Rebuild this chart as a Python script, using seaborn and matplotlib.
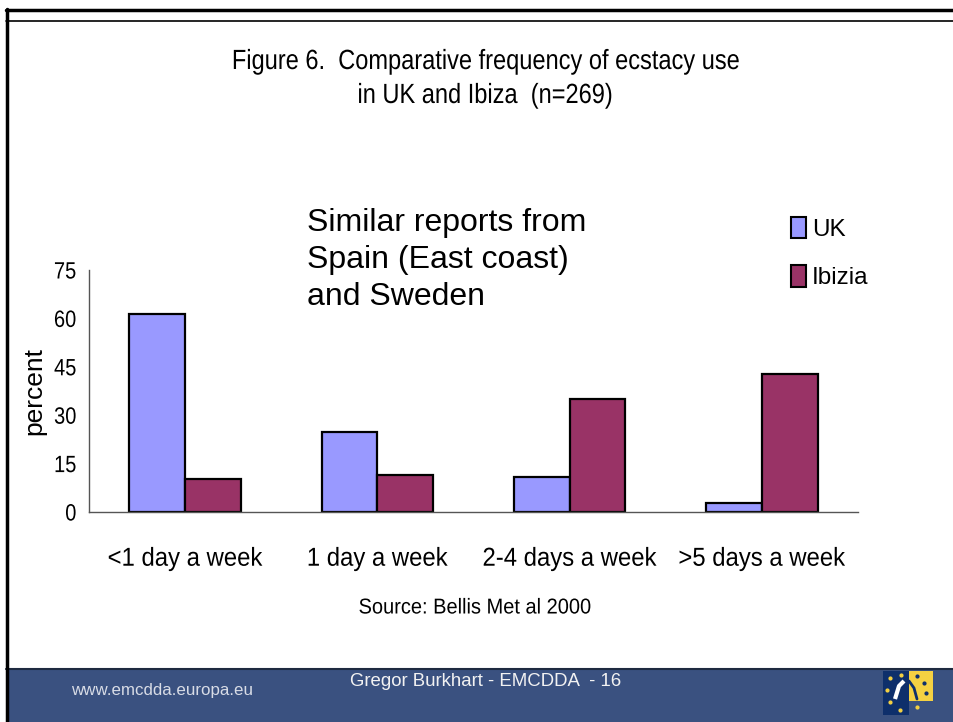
import matplotlib
matplotlib.use("Agg")
import matplotlib.pyplot as plt
from matplotlib.patches import Rectangle
from matplotlib.lines import Line2D
from matplotlib.patheffects import AbstractPathEffect
from matplotlib.transforms import Affine2D
import seaborn as sns
import pandas as pd

categories = ["<1 day a week", "1 day a week", "2-4 days a week", ">5 days a week"]
uk_values = [61.3, 24.7, 10.8, 2.8]
ibiza_values = [10.1, 11.5, 34.9, 42.9]
series_names = ["UK", "Ibizia"]
y_ticks = [0, 15, 30, 45, 60, 75]

REG = "Liberation Sans"

sns.set_theme(style="white")
plt.rcParams['font.family'] = [REG, 'DejaVu Sans']
plt.rcParams['text.color'] = 'black'


class Squeeze(AbstractPathEffect):
    """Condense text horizontally (the source uses a tightly tracked font)."""
    def __init__(self, sx, anchor="center"):
        super().__init__()
        self.sx = sx
        self.anchor = anchor

    def draw_path(self, renderer, gc, tpath, affine, rgbFace=None):
        ext = tpath.get_extents()
        if self.anchor == "left":
            x0 = ext.x0
        elif self.anchor == "right":
            x0 = ext.x1
        else:
            x0 = (ext.x0 + ext.x1) / 2
        t = Affine2D().translate(-x0, 0).scale(self.sx, 1).translate(x0, 0) + affine
        renderer.draw_path(gc, tpath, t, rgbFace)


df = pd.DataFrame({
    "category": categories * 2,
    "value": uk_values + ibiza_values,
    "series": [series_names[0]] * 4 + [series_names[1]] * 4,
})

W, H = 954, 722
fig = plt.figure(figsize=(W / 100, H / 100), dpi=100)
fig.patch.set_facecolor("white")


def fx(px):
    return px / W


def fy(py):
    return 1 - py / H


ax = fig.add_axes([fx(89), fy(512), fx(858) - fx(89), fy(270) - fy(512)])
palette = {"UK": "#9999ff", "Ibizia": "#993366"}
sns.barplot(data=df, x="category", y="value", hue="series", order=categories,
            hue_order=series_names, palette=palette, width=0.58,
            edgecolor="black", linewidth=1.6, saturation=1, ax=ax, legend=False)

ax.set_ylim(0, 75)
ax.set_xlim(-0.5, 3.5)
ax.set_yticks(y_ticks)
ylabels = ax.set_yticklabels([str(t) for t in y_ticks], fontsize=17, color="black")
for t in ylabels:
    t.set_path_effects([Squeeze(0.85, "right")])
ax.set_xticks(range(len(categories)))
xlabels = ax.set_xticklabels(categories, fontsize=18.7, color="black")
for t in xlabels:
    t.set_path_effects([Squeeze(0.92, "center")])
ax.set_xticks([-0.5, 0.5, 1.5, 2.5, 3.5], minor=True)
ax.tick_params(axis="x", which="major", length=0, pad=25)
ax.tick_params(axis="x", which="minor", length=8, width=1, direction="out", color="#555555")
ax.tick_params(axis="y", length=5, width=1, direction="out", color="#555555", pad=4)
ax.set_xlabel("")
ax.set_ylabel("percent", fontsize=19, color="black", labelpad=3)
for s in ["top", "right"]:
    ax.spines[s].set_visible(False)
for s in ["left", "bottom"]:
    ax.spines[s].set_color("#555555")
    ax.spines[s].set_linewidth(1)
ax.set_facecolor("white")

# legend
handles = [Rectangle((0, 0), 1, 1, facecolor=palette[n], edgecolor="black", linewidth=1.5)
           for n in series_names]
fig.legend(handles, series_names, loc="upper left", bbox_to_anchor=(fx(781), fy(207)),
           frameon=False, prop={"family": REG, "size": 17.5}, handlelength=0.62,
           handleheight=1.0, handletextpad=0.25, labelspacing=1.0, borderaxespad=0,
           labelcolor="black")

# title
t1 = fig.text(fx(485), fy(62), "Figure 6.  Comparative frequency of ecstacy use",
              ha="center", va="center", fontsize=20)
t2 = fig.text(fx(485), fy(96), "in UK and Ibiza  (n=269)",
              ha="center", va="center", fontsize=20)
for t in (t1, t2):
    t.set_path_effects([Squeeze(0.85, "center")])

# annotation
fig.text(fx(307), fy(208), "Similar reports from\nSpain (East coast)\nand Sweden",
         ha="left", va="top", fontsize=23, linespacing=1.3)

# source
ts = fig.text(fx(475), fy(608), "Source: Bellis Met al 2000", ha="center", va="center",
              fontsize=15.5)
ts.set_path_effects([Squeeze(0.93, "center")])

# page decorations
fig.add_artist(Line2D([fx(6), 1], [fy(10), fy(10)], color="black", linewidth=2.5))
fig.add_artist(Line2D([fx(6), 1], [fy(21), fy(21)], color="black", linewidth=1.2))
fig.add_artist(Rectangle((fx(8), 0), 1, fy(669), transform=fig.transFigure,
                         facecolor="#3a5180", edgecolor="none", zorder=3))
fig.add_artist(Line2D([fx(7.5), fx(7.5)], [fy(9), 0], color="black", linewidth=2.5, zorder=5))
fig.add_artist(Line2D([fx(6), 1], [fy(669), fy(669)], color="#1e2a40", linewidth=1.5, zorder=4))
fig.text(fx(71), fy(691), "www.emcdda.europa.eu", ha="left", va="center", fontsize=12.2,
         color="#d8dce6", zorder=6)
fig.text(fx(486), fy(682), "Gregor Burkhart - EMCDDA  - 16", ha="center", va="center",
         fontsize=13.4, color="#f2f2f2", zorder=6)

# logo
NAVY, GOLD = "#0e2f6b", "#f5d142"
fig.add_artist(Rectangle((fx(883), fy(715)), fx(909) - fx(883), fy(671) - fy(715),
                         transform=fig.transFigure, facecolor=NAVY, edgecolor="none", zorder=6))
fig.add_artist(Rectangle((fx(909), fy(701)), fx(933) - fx(909), fy(671) - fy(701),
                         transform=fig.transFigure, facecolor=GOLD, edgecolor="none", zorder=6))
fig.add_artist(Line2D([fx(895), fx(899), fx(904)], [fy(699), fy(686), fy(681)],
                      color="white", linewidth=3, zorder=7, solid_capstyle="butt"))
fig.add_artist(Line2D([fx(909), fx(914), fx(917)], [fy(681), fy(688), fy(699)],
                      color=NAVY, linewidth=2, zorder=7))
for (px, py, c) in [(890, 678, GOLD), (887, 690, GOLD), (890, 702, GOLD),
                    (900, 710, GOLD), (901, 675, GOLD), (917, 676, NAVY),
                    (924, 683, NAVY), (926, 693, NAVY), (917, 707, GOLD)]:
    fig.add_artist(Line2D([fx(px)], [fy(py)], marker="o", markersize=2, color=c,
                          linestyle="none", zorder=8))

fig.savefig("out.png", dpi=100)
